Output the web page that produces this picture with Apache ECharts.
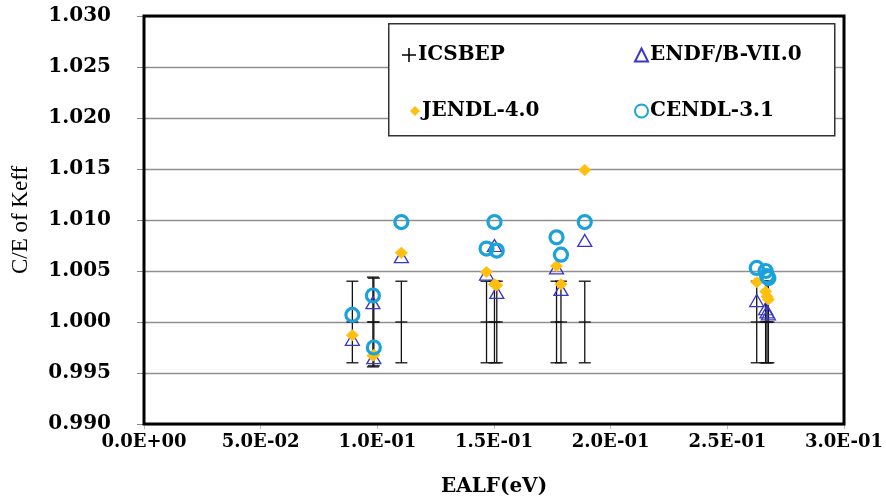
<!DOCTYPE html>
<html>
<head>
<meta charset="utf-8">
<script src="https://cdn.jsdelivr.net/npm/echarts@6/dist/echarts.min.js"></script>
<style>html,body{margin:0;padding:0;background:#fff}#c{width:886px;height:499px}</style>
</head>
<body>
<div id="c"></div>
<script>
// EALF (eV) of each benchmark experiment
const ealf      = [0.0893, 0.0981, 0.0985, 0.1103, 0.1468, 0.1502, 0.1512, 0.1768, 0.1787, 0.1889, 0.2626, 0.2664, 0.2670, 0.2676];
// ICSBEP benchmark (C/E = 1) and its uncertainty
const icsbep    = [1.000, 1.000, 1.000, 1.000, 1.000, 1.000, 1.000, 1.000, 1.000, 1.000, 1.000, 1.000, 1.000, 1.000];
const icsbepErr = [0.0040, 0.0044, 0.0043, 0.0040, 0.0040, 0.0040, 0.0040, 0.0040, 0.0040, 0.0040, 0.0040, 0.0040, 0.0040, 0.0040];
// C/E of Keff for each library
const endf  = [0.9983, 1.0019, 0.9965, 1.0064, 1.0047, 1.0075, 1.0029, 1.0053, 1.0032, 1.0080, 1.0021, 1.0013, 1.0010, 1.0008];
const jendl = [0.9987, 0.9967, 0.9968, 1.0068, 1.0049, 1.0037, 1.0036, 1.0055, 1.0037, 1.0149, 1.0039, 1.0030, 1.0025, 1.0022];
const cendl = [1.0007, 1.0026, 0.9975, 1.0098, 1.0072, 1.0098, 1.0070, 1.0083, 1.0066, 1.0098, 1.0053, 1.0050, 1.0045, 1.0043];
// axis tick labels
const xTickLabels = ['0.0E+00', '5.0E-02', '1.0E-01', '1.5E-01', '2.0E-01', '2.5E-01', '3.0E-01'];
const yTickLabels = ['0.990', '0.995', '1.000', '1.005', '1.010', '1.015', '1.020', '1.025', '1.030'];
const seriesNames = ['ICSBEP', 'ENDF/B-VII.0', 'JENDL-4.0', 'CENDL-3.1'];

const pairs = ys => ealf.map((x, i) => [x, ys[i]]);
const serifB = '"DejaVu Serif", serif';

const chart = echarts.init(document.getElementById('c'), null, {renderer: 'canvas'});

function legendAt(name, left, top, icon, w, h) {
  const l = {
    data: [{name: name}],
    left: left, top: top,
    itemWidth: w || 13, itemHeight: h || 13, itemGap: 4,
    padding: 0,
    selectedMode: false,
    textStyle: {fontFamily: serifB, fontWeight: 'bold', fontSize: 20, color: '#000', padding: [0, 0, 0, -3]}
  };
  if (icon) l.icon = icon;
  return l;
}

chart.setOption({
  animation: false,
  backgroundColor: '#fff',
  grid: {left: 144, right: 42, top: 16, bottom: 75, containLabel: false, outerBoundsMode: 'none',
         show: true, borderColor: '#000', borderWidth: 3, backgroundColor: 'transparent', z: 3},
  graphic: [{
    type: 'rect', left: 388, top: 23, z: 3,
    shape: {width: 446, height: 112},
    style: {fill: '#fff', stroke: '#333', lineWidth: 1.5}
  }],
  legend: [
    legendAt(seriesNames[0], 402, 45, 'path://M4.45,0 H5.55 V4.45 H10 V5.55 H5.55 V10 H4.45 V5.55 H0 V4.45 H4.45 Z', 14, 14),
    legendAt(seriesNames[1], 634, 45),
    legendAt(seriesNames[2], 410, 101, null, 10, 10),
    legendAt(seriesNames[3], 634, 101)
  ],
  xAxis: {
    type: 'value', min: 0, max: 0.3, interval: 0.05,
    name: 'EALF(eV)', nameLocation: 'middle', nameGap: 53,
    nameTextStyle: {fontFamily: serifB, fontWeight: 'bold', fontSize: 20, color: '#000'},
    axisLine: {show: false},
    axisTick: {show: true, length: 5, lineStyle: {color: '#bbb'}},
    splitLine: {show: false},
    axisLabel: {
      margin: 9, fontFamily: serifB, fontWeight: 'bold', fontSize: 18, color: '#000',
      formatter: v => xTickLabels[Math.round(v / 0.05)]
    }
  },
  yAxis: {
    type: 'value', min: 0.99, max: 1.03, interval: 0.005,
    name: 'C/E of Keff', nameLocation: 'middle', nameGap: 112, nameRotate: 90,
    nameTextStyle: {fontFamily: '"Liberation Serif", serif', fontSize: 23, color: '#000'},
    axisLine: {show: false},
    axisTick: {show: true, length: 7, lineStyle: {color: '#888'}},
    splitLine: {show: true, lineStyle: {color: '#8f8f8f', width: 1.3}},
    axisLabel: {
      margin: 33, fontFamily: serifB, fontWeight: 'bold', fontSize: 20, color: '#000',
      formatter: v => yTickLabels[Math.round((v - 0.99) / 0.005)]
    }
  },
  series: [
    {
      name: seriesNames[0], type: 'custom', z: 4,
      itemStyle: {color: '#000'},
      data: ealf.map((x, i) => [x, icsbep[i], icsbepErr[i]]),
      encode: {x: 0, y: 1},
      renderItem: function (params, api) {
        const x = api.value(0), y = api.value(1), e = api.value(2);
        const t = api.coord([x, y + e]), b = api.coord([x, y - e]), m = api.coord([x, y]);
        const cap = 6, st = {stroke: '#111', lineWidth: 1.3};
        return {type: 'group', children: [
          {type: 'line', shape: {x1: t[0], y1: t[1], x2: b[0], y2: b[1]}, style: st},
          {type: 'line', shape: {x1: t[0] - cap, y1: t[1], x2: t[0] + cap, y2: t[1]}, style: st},
          {type: 'line', shape: {x1: b[0] - cap, y1: b[1], x2: b[0] + cap, y2: b[1]}, style: st},
          {type: 'line', shape: {x1: m[0] - cap, y1: m[1], x2: m[0] + cap, y2: m[1]}, style: st}
        ]};
      }
    },
    {
      name: seriesNames[1], type: 'scatter', z: 5,
      symbol: 'triangle', symbolSize: [14, 12],
      itemStyle: {color: 'rgba(255,255,255,0)', borderColor: '#3a36c8', borderWidth: 1.3, opacity: 1},
      data: pairs(endf)
    },
    {
      name: seriesNames[2], type: 'scatter', z: 6,
      symbol: 'diamond', symbolSize: [13, 12],
      itemStyle: {color: '#ffbf0f', opacity: 1},
      data: pairs(jendl)
    },
    {
      name: seriesNames[3], type: 'scatter', z: 7,
      symbol: 'circle', symbolSize: 13,
      itemStyle: {color: 'rgba(255,255,255,0)', borderColor: '#1ba1dc', borderWidth: 3.2, opacity: 1},
      data: pairs(cendl)
    }
  ]
});
</script>
</body>
</html>
